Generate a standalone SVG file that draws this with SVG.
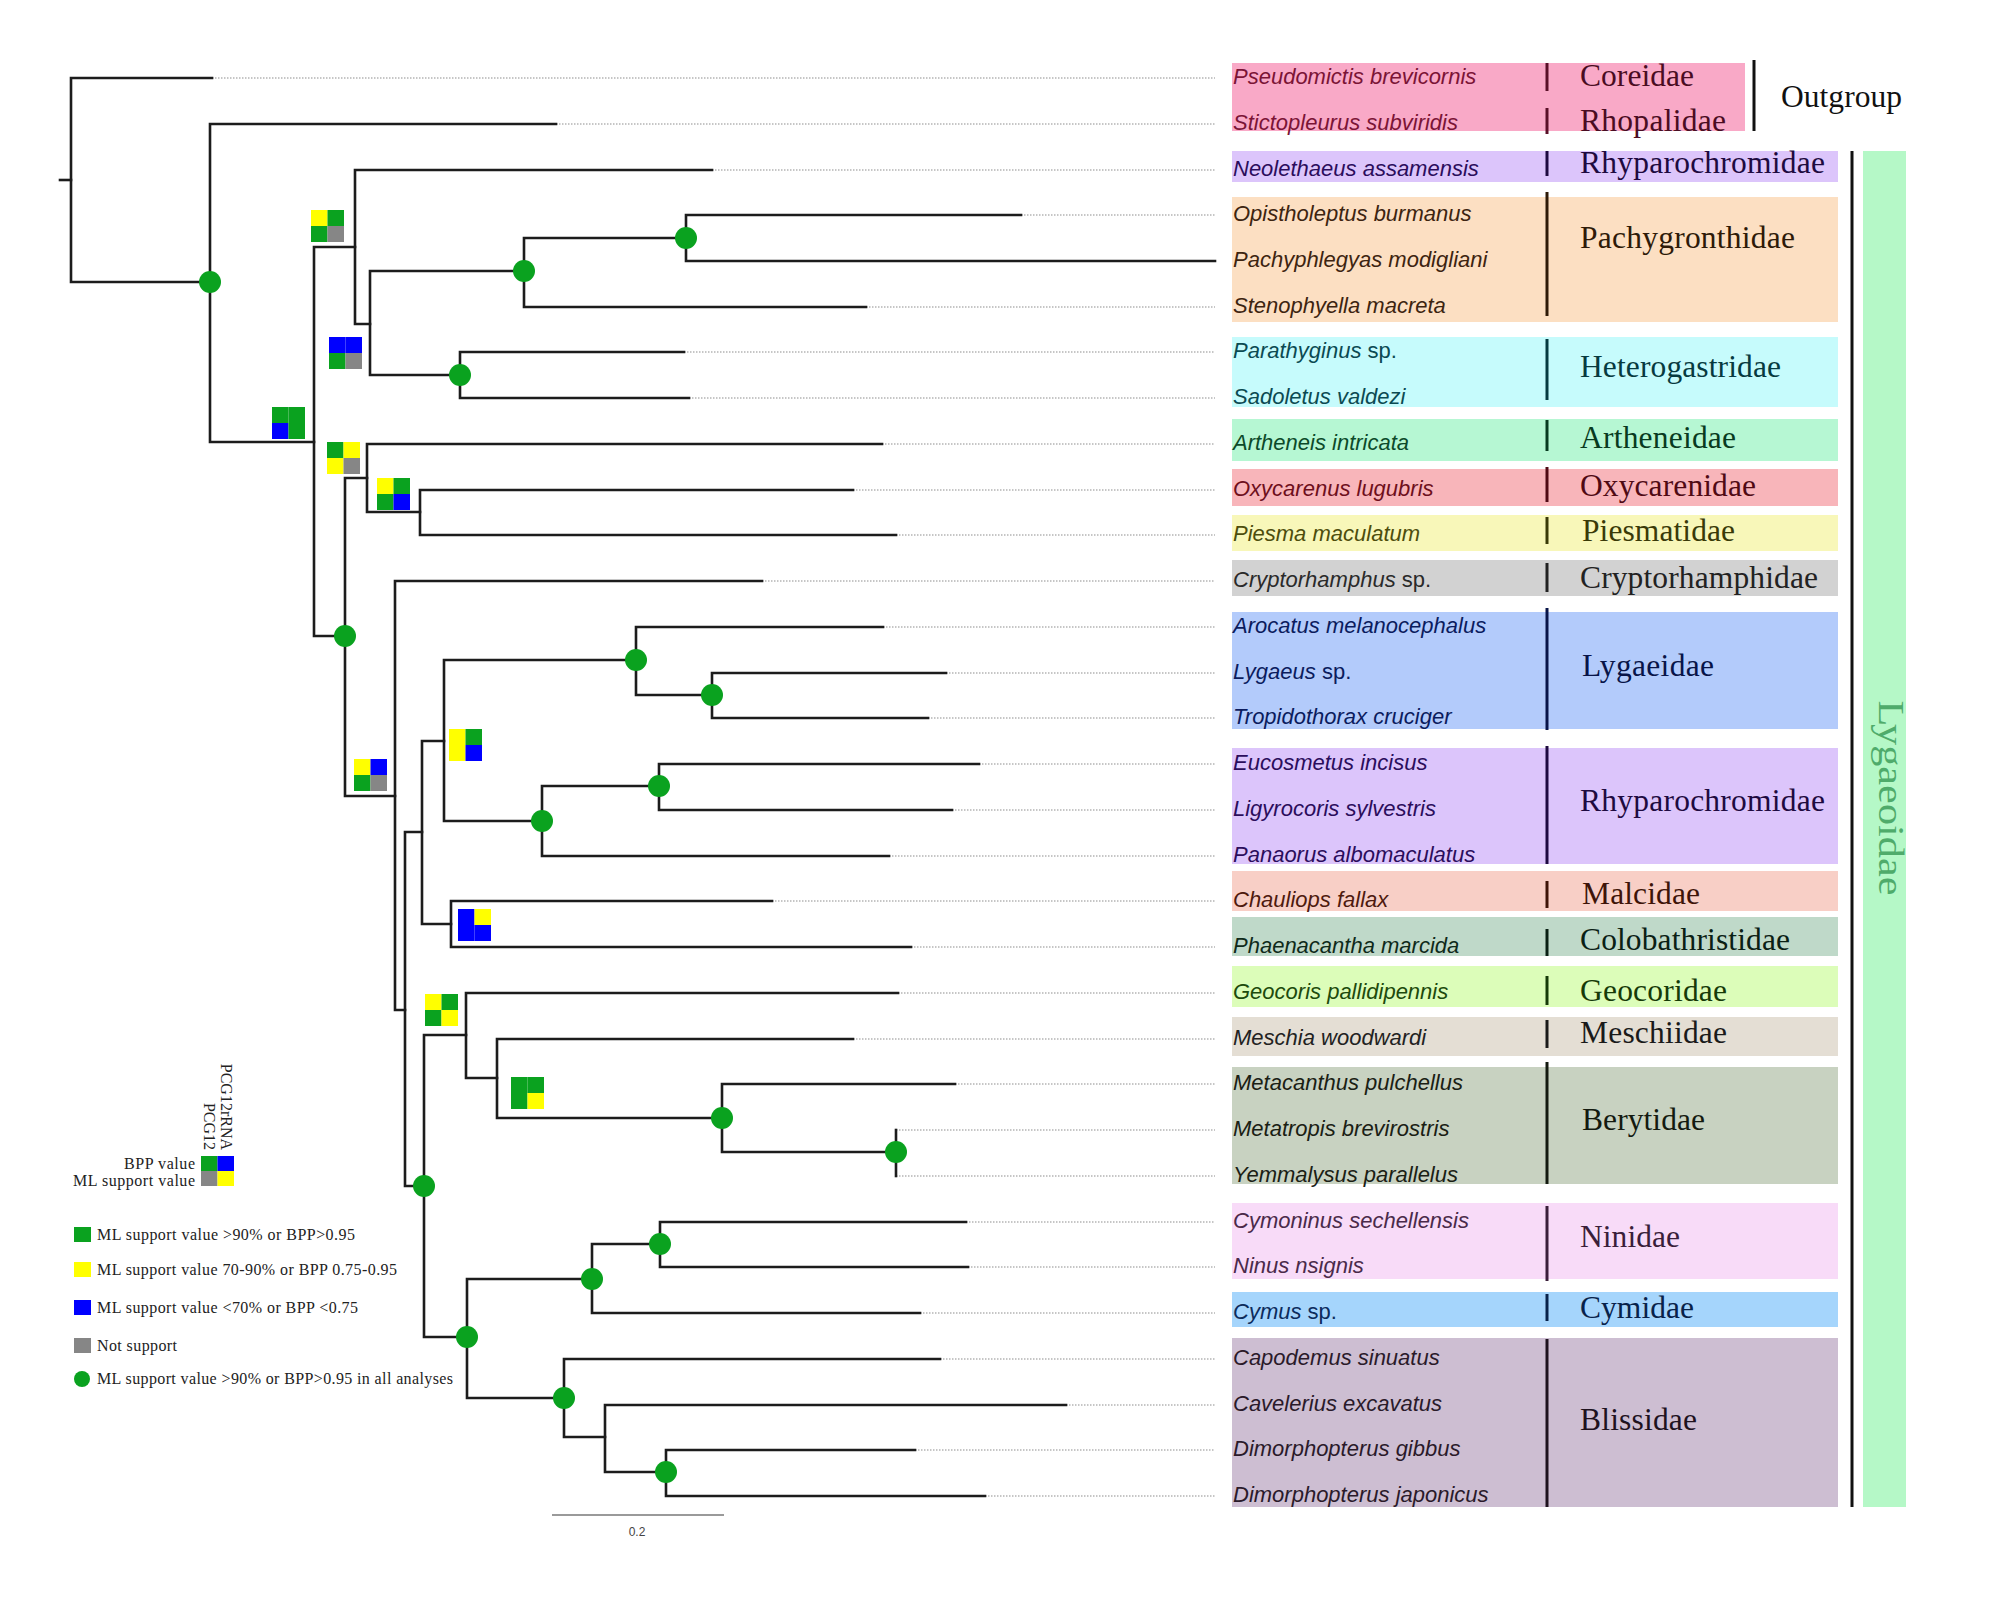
<svg xmlns="http://www.w3.org/2000/svg" width="2008" height="1618" viewBox="0 0 2008 1618">
<style>
.br{fill:none;stroke:#1c1c1c;stroke-width:2.6;stroke-linecap:square}
.ld{fill:none;stroke:#b4b4b4;stroke-width:1.3;stroke-dasharray:1.5 1.5}
.dot{fill:#0aa21f}
.g{fill:#0aa21f}.y{fill:#ffff00}.b{fill:#0000ff}.k{fill:#868686}
.sp{font-family:"Liberation Sans",Arial,sans-serif;font-style:italic;font-size:22px}
.fam{font-family:"Liberation Serif","Times New Roman",serif;font-size:31.5px}
.bar{stroke-width:3}
.lg{font-family:"Liberation Serif","Times New Roman",serif;font-size:16px;fill:#222}
</style>
<rect width="2008" height="1618" fill="#ffffff"/>

<!-- family background boxes -->
<g id="boxes">
<rect x="1232" y="63" width="513" height="68" fill="#f9a9c7"/>
<rect x="1232" y="151" width="606" height="31" fill="#dcc5fb"/>
<rect x="1232" y="197" width="606" height="125" fill="#fcdfc2"/>
<rect x="1232" y="337" width="606" height="70" fill="#c6fbfc"/>
<rect x="1232" y="419" width="606" height="42" fill="#b6f7d3"/>
<rect x="1232" y="469" width="606" height="37" fill="#f8b5ba"/>
<rect x="1232" y="515" width="606" height="36" fill="#f8f7b9"/>
<rect x="1232" y="560" width="606" height="36" fill="#d2d2d2"/>
<rect x="1232" y="612" width="606" height="117" fill="#b3cbfb"/>
<rect x="1232" y="748" width="606" height="116" fill="#dcc5fb"/>
<rect x="1232" y="871" width="606" height="40" fill="#f8cfc6"/>
<rect x="1232" y="917" width="606" height="39" fill="#bfd9c9"/>
<rect x="1232" y="966" width="606" height="41" fill="#dcfdb9"/>
<rect x="1232" y="1017" width="606" height="39" fill="#e4ded4"/>
<rect x="1232" y="1067" width="606" height="117" fill="#c8d2c1"/>
<rect x="1232" y="1203" width="606" height="76" fill="#f8dbf8"/>
<rect x="1232" y="1292" width="606" height="35" fill="#a5d5fc"/>
<rect x="1232" y="1338" width="606" height="169" fill="#cdbed2"/>
<rect x="1863" y="151" width="43" height="1356" fill="#b5f8c7"/>
</g>

<!-- connectors: tree branches and leaders -->
<g id="connectors">
<g id="leaders" class="ld">
<path d="M212 78H1215M556 124H1215M712 170H1215M1021 215H1215M866 307H1215M684 352H1215M689 398H1215M882 444H1215M853 490H1215M896 535H1215M762 581H1215"/>
<path d="M883 627H1215M946 673H1215M928 718H1215M979 764H1215M952 810H1215M889 856H1215M772 901H1215M911 947H1215M898 993H1215M853 1039H1215M955 1084H1215"/>
<path d="M896 1130H1215M896 1176H1215M966 1222H1215M968 1267H1215M920 1313H1215M940 1359H1215M1066 1405H1215M915 1450H1215M985 1496H1215"/>
</g>
<g id="branches" class="br">
<path d="M60 180H71"/>
<path d="M212 78H71V282H210"/>
<path d="M556 124H210V442H314"/>
<path d="M355 247H314V636H345"/>
<path d="M712 170H355V324H370"/>
<path d="M524 271H370V375H460"/>
<path d="M686 238H524V307H866"/>
<path d="M1021 215H686V261H1215"/>
<path d="M684 352H460V398H689"/>
<path d="M367 478H345V796H395"/>
<path d="M882 444H367V512H420"/>
<path d="M853 490H420V535H896"/>
<path d="M762 581H395V1010H405"/>
<path d="M422 832H405V1186H424"/>
<path d="M444 741H422V924H451"/>
<path d="M636 660H444V821H542"/>
<path d="M883 627H636V695H712"/>
<path d="M946 673H712V718H928"/>
<path d="M659 786H542V856H889"/>
<path d="M979 764H659V810H952"/>
<path d="M772 901H451V947H911"/>
<path d="M466 1035H424V1337H467"/>
<path d="M898 993H466V1078H497"/>
<path d="M853 1039H497V1118H722"/>
<path d="M955 1084H722V1152H896"/>
<path d="M896 1130V1176"/>
<path d="M592 1279H467V1398H564"/>
<path d="M660 1244H592V1313H920"/>
<path d="M966 1222H660V1267H968"/>
<path d="M940 1359H564V1437H605"/>
<path d="M1066 1405H605V1472H666"/>
<path d="M915 1450H666V1496H985"/>
</g>
</g>

<!-- full-support nodes -->
<g id="full-support-nodes" class="dot">
<circle id="n1" cx="210" cy="282" r="11"/>
<circle id="n-pachy" cx="524" cy="271" r="11"/>
<circle id="n-pachy2" cx="686" cy="238" r="11"/>
<circle id="n-hetero" cx="460" cy="375" r="11"/>
<circle id="n-c" cx="345" cy="636" r="11"/>
<circle id="n-lyg" cx="636" cy="660" r="11"/>
<circle id="n-lyg2" cx="712" cy="695" r="11"/>
<circle id="n-rhy" cx="542" cy="821" r="11"/>
<circle id="n-rhy2" cx="659" cy="786" r="11"/>
<circle id="n-i" cx="424" cy="1186" r="11"/>
<circle id="n-k" cx="467" cy="1337" r="11"/>
<circle id="n-m" cx="722" cy="1118" r="11"/>
<circle id="n-m2" cx="896" cy="1152" r="11"/>
<circle id="n-n" cx="592" cy="1279" r="11"/>
<circle id="n-o" cx="660" cy="1244" r="11"/>
<circle id="n-p" cx="564" cy="1398" r="11"/>
<circle id="n-s" cx="666" cy="1472" r="11"/>
</g>

<!-- support squares -->
<g id="sq1" transform="translate(311,210)"><rect class="y" width="16.5" height="16"/><rect class="g" x="16.5" width="16.5" height="16"/><rect class="g" y="16" width="16.5" height="16"/><rect class="k" x="16.5" y="16" width="16.5" height="16"/></g>
<g id="sq2" transform="translate(329,337)"><rect class="b" width="16.5" height="16"/><rect class="b" x="16.5" width="16.5" height="16"/><rect class="g" y="16" width="16.5" height="16"/><rect class="k" x="16.5" y="16" width="16.5" height="16"/></g>
<g id="sq3" transform="translate(272,407)"><rect class="g" width="16.5" height="16"/><rect class="g" x="16.5" width="16.5" height="16"/><rect class="b" y="16" width="16.5" height="16"/><rect class="g" x="16.5" y="16" width="16.5" height="16"/></g>
<g id="sq4" transform="translate(327,442)"><rect class="g" width="16.5" height="16"/><rect class="y" x="16.5" width="16.5" height="16"/><rect class="y" y="16" width="16.5" height="16"/><rect class="k" x="16.5" y="16" width="16.5" height="16"/></g>
<g id="sq5" transform="translate(377,478)"><rect class="y" width="16.5" height="16"/><rect class="g" x="16.5" width="16.5" height="16"/><rect class="g" y="16" width="16.5" height="16"/><rect class="b" x="16.5" y="16" width="16.5" height="16"/></g>
<g id="sq6" transform="translate(354,759)"><rect class="y" width="16.5" height="16"/><rect class="b" x="16.5" width="16.5" height="16"/><rect class="g" y="16" width="16.5" height="16"/><rect class="k" x="16.5" y="16" width="16.5" height="16"/></g>
<g id="sq7" transform="translate(449,729)"><rect class="y" width="16.5" height="16"/><rect class="g" x="16.5" width="16.5" height="16"/><rect class="y" y="16" width="16.5" height="16"/><rect class="b" x="16.5" y="16" width="16.5" height="16"/></g>
<g id="sq8" transform="translate(458,909)"><rect class="b" width="16.5" height="16"/><rect class="y" x="16.5" width="16.5" height="16"/><rect class="b" y="16" width="16.5" height="16"/><rect class="b" x="16.5" y="16" width="16.5" height="16"/></g>
<g id="sq9" transform="translate(425,994)"><rect class="y" width="16.5" height="16"/><rect class="g" x="16.5" width="16.5" height="16"/><rect class="g" y="16" width="16.5" height="16"/><rect class="y" x="16.5" y="16" width="16.5" height="16"/></g>
<g id="sq10" transform="translate(511,1077)"><rect class="g" width="16.5" height="16"/><rect class="g" x="16.5" width="16.5" height="16"/><rect class="g" y="16" width="16.5" height="16"/><rect class="y" x="16.5" y="16" width="16.5" height="16"/></g>

<!-- species labels -->
<g id="species" class="sp">
<text id="t0" x="1233" y="84" fill="#7b1436">Pseudomictis brevicornis</text>
<text id="t1" x="1233" y="130" fill="#7b1436">Stictopleurus subviridis</text>
<text id="t2" x="1233" y="176" fill="#2b0d5c">Neolethaeus assamensis</text>
<text id="t3" x="1233" y="221" fill="#3d2410">Opistholeptus burmanus</text>
<text id="t4" x="1233" y="267" fill="#3d2410">Pachyphlegyas modigliani</text>
<text id="t5" x="1233" y="313" fill="#3d2410">Stenophyella macreta</text>
<text id="t6" x="1233" y="358" fill="#0b4a52">Parathyginus <tspan font-style="normal">sp.</tspan></text>
<text id="t7" x="1233" y="404" fill="#0b4a52">Sadoletus valdezi</text>
<text id="t8" x="1233" y="450" fill="#0c4a2a">Artheneis intricata</text>
<text id="t9" x="1233" y="496" fill="#6e0f1c">Oxycarenus lugubris</text>
<text id="t10" x="1233" y="541" fill="#4d4d0c">Piesma maculatum</text>
<text id="t11" x="1233" y="587" fill="#2a2a2a">Cryptorhamphus <tspan font-style="normal">sp.</tspan></text>
<text id="t12" x="1233" y="633" fill="#0b1c5e">Arocatus melanocephalus</text>
<text id="t13" x="1233" y="679" fill="#0b1c5e">Lygaeus <tspan font-style="normal">sp.</tspan></text>
<text id="t14" x="1233" y="724" fill="#0b1c5e">Tropidothorax cruciger</text>
<text id="t15" x="1233" y="770" fill="#2b0d5c">Eucosmetus incisus</text>
<text id="t16" x="1233" y="816" fill="#2b0d5c">Ligyrocoris sylvestris</text>
<text id="t17" x="1233" y="862" fill="#2b0d5c">Panaorus albomaculatus</text>
<text id="t18" x="1233" y="907" fill="#4e1a0e">Chauliops fallax</text>
<text id="t19" x="1233" y="953" fill="#0f2a1a">Phaenacantha marcida</text>
<text id="t20" x="1233" y="999" fill="#1d4a0c">Geocoris pallidipennis</text>
<text id="t21" x="1233" y="1045" fill="#222222">Meschia woodwardi</text>
<text id="t22" x="1233" y="1090" fill="#1a2014">Metacanthus pulchellus</text>
<text id="t23" x="1233" y="1136" fill="#1a2014">Metatropis brevirostris</text>
<text id="t24" x="1233" y="1182" fill="#1a2014">Yemmalysus parallelus</text>
<text id="t25" x="1233" y="1228" fill="#4a2a4a">Cymoninus sechellensis</text>
<text id="t26" x="1233" y="1273" fill="#4a2a4a">Ninus nsignis</text>
<text id="t27" x="1233" y="1319" fill="#0c2c5c">Cymus <tspan font-style="normal">sp.</tspan></text>
<text id="t28" x="1233" y="1365" fill="#2a1a2a">Capodemus sinuatus</text>
<text id="t29" x="1233" y="1411" fill="#2a1a2a">Cavelerius excavatus</text>
<text id="t30" x="1233" y="1456" fill="#2a1a2a">Dimorphopterus gibbus</text>
<text id="t31" x="1233" y="1502" fill="#2a1a2a">Dimorphopterus japonicus</text>
</g>

<!-- family bars -->
<g id="family-bars" class="bar">
<line x1="1547" y1="63" x2="1547" y2="91" stroke="#5a1028"/>
<line x1="1547" y1="108" x2="1547" y2="134" stroke="#5a1028"/>
<line x1="1547" y1="151" x2="1547" y2="176" stroke="#1e0a40"/>
<line x1="1547" y1="192" x2="1547" y2="316" stroke="#2e1a08"/>
<line x1="1547" y1="339" x2="1547" y2="400" stroke="#063a40"/>
<line x1="1547" y1="420" x2="1547" y2="451" stroke="#083a20"/>
<line x1="1547" y1="467" x2="1547" y2="502" stroke="#500a14"/>
<line x1="1547" y1="517" x2="1547" y2="544" stroke="#3a3a08"/>
<line x1="1547" y1="563" x2="1547" y2="592" stroke="#222222"/>
<line x1="1547" y1="608" x2="1547" y2="730" stroke="#081448"/>
<line x1="1547" y1="746" x2="1547" y2="864" stroke="#1e0a40"/>
<line x1="1547" y1="881" x2="1547" y2="908" stroke="#3e1408"/>
<line x1="1547" y1="929" x2="1547" y2="956" stroke="#0a2014"/>
<line x1="1547" y1="976" x2="1547" y2="1005" stroke="#163a08"/>
<line x1="1547" y1="1020" x2="1547" y2="1048" stroke="#1a1a1a"/>
<line x1="1547" y1="1062" x2="1547" y2="1184" stroke="#141a10"/>
<line x1="1547" y1="1206" x2="1547" y2="1281" stroke="#3a1e3a"/>
<line x1="1547" y1="1294" x2="1547" y2="1321" stroke="#08224a"/>
<line x1="1547" y1="1339" x2="1547" y2="1507" stroke="#1e121e"/>
<line x1="1754" y1="60" x2="1754" y2="131" stroke="#111111"/>
<line x1="1852" y1="151" x2="1852" y2="1507" stroke="#111111"/>
</g>

<!-- family labels -->
<g id="families" class="fam">
<text id="f-coreidae" x="1580" y="86" fill="#4a0c22" textLength="114">Coreidae</text>
<text id="f-rhopalidae" x="1580" y="131" fill="#4a0c22" textLength="146">Rhopalidae</text>
<text id="f-rhyp1" x="1580" y="173" fill="#1e0a40" textLength="245">Rhyparochromidae</text>
<text id="f-pachy" x="1580" y="248" fill="#2e1a08" textLength="215">Pachygronthidae</text>
<text id="f-hetero" x="1580" y="377" fill="#063a40" textLength="201">Heterogastridae</text>
<text id="f-arth" x="1580" y="448" fill="#083a20" textLength="156">Artheneidae</text>
<text id="f-oxy" x="1580" y="496" fill="#500a14" textLength="176">Oxycarenidae</text>
<text id="f-pies" x="1582" y="541" fill="#3a3a08" textLength="153">Piesmatidae</text>
<text id="f-crypt" x="1580" y="588" fill="#222222" textLength="238">Cryptorhamphidae</text>
<text id="f-lyg" x="1582" y="676" fill="#081448" textLength="132">Lygaeidae</text>
<text id="f-rhyp2" x="1580" y="811" fill="#1e0a40" textLength="245">Rhyparochromidae</text>
<text id="f-malc" x="1582" y="904" fill="#3e1408" textLength="118">Malcidae</text>
<text id="f-colob" x="1580" y="950" fill="#0a2014" textLength="210">Colobathristidae</text>
<text id="f-geoc" x="1580" y="1001" fill="#163a08" textLength="147">Geocoridae</text>
<text id="f-mesch" x="1580" y="1043" fill="#1a1a1a" textLength="147">Meschiidae</text>
<text id="f-beryt" x="1582" y="1130" fill="#141a10" textLength="123">Berytidae</text>
<text id="f-ninid" x="1580" y="1247" fill="#3a1e3a" textLength="100">Ninidae</text>
<text id="f-cymid" x="1580" y="1318" fill="#08224a" textLength="114">Cymidae</text>
<text id="f-bliss" x="1580" y="1430" fill="#1e121e" textLength="117">Blissidae</text>
<text id="f-outgroup" x="1781" y="107" fill="#111111" textLength="121">Outgroup</text>
<text id="f-lygaeoidae" transform="translate(1879,798) rotate(90)" text-anchor="middle" fill="#4fab6b" font-size="36" textLength="195" lengthAdjust="spacingAndGlyphs">Lygaeoidae</text>
</g>

<!-- scale bar -->
<g id="scale">
<line x1="552" y1="1515" x2="724" y2="1515" stroke="#9a9a9a" stroke-width="2"/>
<text x="637" y="1536" text-anchor="middle" font-family="Liberation Sans,Arial,sans-serif" font-size="12" fill="#444">0.2</text>
</g>

<!-- legend -->
<g id="legend">
<g id="legend-key" transform="translate(201,1156)"><rect class="g" width="16.5" height="15"/><rect class="b" x="16.5" width="16.5" height="15"/><rect class="k" y="15" width="16.5" height="15"/><rect class="y" x="16.5" y="15" width="16.5" height="15"/></g>
<text class="lg" x="195" y="1169" text-anchor="end" textLength="71">BPP value</text>
<text class="lg" x="195" y="1186" text-anchor="end" textLength="122">ML support value</text>
<text class="lg" transform="translate(204,1150) rotate(90)" text-anchor="end">PCG12</text>
<text class="lg" transform="translate(221,1150) rotate(90)" text-anchor="end">PCG12rRNA</text>
<rect class="g" x="74" y="1227" width="17" height="15"/>
<text class="lg" x="97" y="1240" textLength="258">ML support value &gt;90% or BPP&gt;0.95</text>
<rect class="y" x="74" y="1262" width="17" height="15"/>
<text class="lg" x="97" y="1275" textLength="300">ML support value 70-90% or BPP 0.75-0.95</text>
<rect class="b" x="74" y="1300" width="17" height="15"/>
<text class="lg" x="97" y="1313" textLength="261">ML support value &lt;70% or BPP &lt;0.75</text>
<rect class="k" x="74" y="1338" width="17" height="15"/>
<text class="lg" x="97" y="1351" textLength="80">Not support</text>
<circle class="dot" cx="82" cy="1379" r="8"/>
<text class="lg" x="97" y="1384" textLength="356">ML support value &gt;90% or BPP&gt;0.95 in all analyses</text>
</g>
</svg>
